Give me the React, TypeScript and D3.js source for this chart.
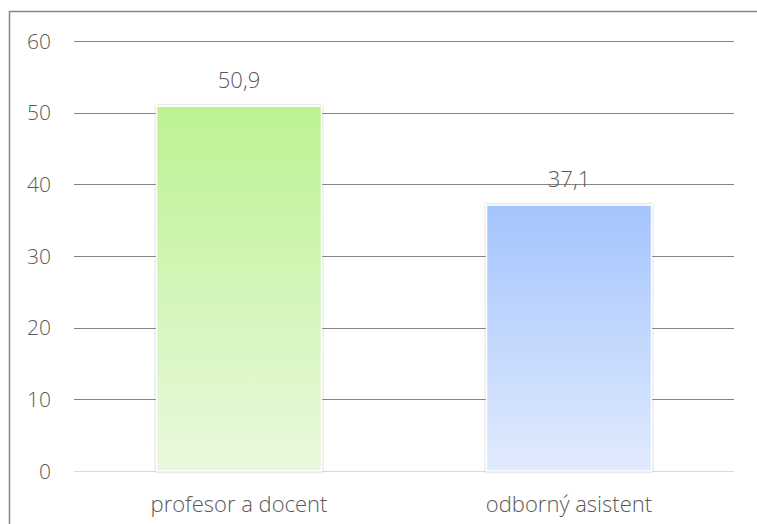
import React, { useEffect, useRef } from 'react';
import * as d3 from 'd3';

const categories = ['profesor a docent', 'odborný asistent'];
const values = [50.9, 37.1];
const valueLabels = ['50,9', '37,1'];
const yTicks = [0, 10, 20, 30, 40, 50, 60];
const gradients = [
  { top: '#bdf293', bottom: '#e9f9de' },
  { top: '#a4c4fd', bottom: '#e1ebfd' },
];

const W = 757;
const H = 524;
const FONT = '"Open Sans", sans-serif';

const App: React.FC = () => {
  const ref = useRef<SVGSVGElement | null>(null);

  useEffect(() => {
    if (!ref.current) return;
    const svg = d3.select(ref.current);
    svg.selectAll('*').remove();

    const margin = { left: 74, right: 23, top: 41, bottom: 53 };
    const x = d3.scaleBand<string>()
      .domain(categories)
      .range([margin.left, W - margin.right])
      .paddingInner(0.5)
      .paddingOuter(0.25);
    const y = d3.scaleLinear().domain([0, 60]).range([H - margin.bottom, margin.top]);

    const defs = svg.append('defs');
    gradients.forEach((g, i) => {
      const lg = defs.append('linearGradient')
        .attr('id', `grad${i}`)
        .attr('x1', 0).attr('y1', 0).attr('x2', 0).attr('y2', 1);
      lg.append('stop').attr('offset', '0%').attr('stop-color', g.top);
      lg.append('stop').attr('offset', '100%').attr('stop-color', g.bottom);
    });
    const f = defs.append('filter').attr('id', 'shadow')
      .attr('x', '-10%').attr('y', '-10%').attr('width', '120%').attr('height', '120%');
    f.append('feDropShadow').attr('dx', 0).attr('dy', 0).attr('stdDeviation', 1.2)
      .attr('flood-color', '#000').attr('flood-opacity', 0.35);

    svg.append('rect').attr('width', W).attr('height', H).attr('fill', '#fff');

    // outer chart border (cropped on the right and bottom)
    svg.append('path')
      .attr('d', `M9.5,${H + 2}V11.5H${W + 2}`)
      .attr('fill', 'none')
      .attr('stroke', '#868686')
      .attr('stroke-width', 1.5);

    // gridlines
    svg.append('g').selectAll('line')
      .data(yTicks)
      .join('line')
      .attr('x1', margin.left)
      .attr('x2', W - margin.right)
      .attr('y1', d => Math.round(y(d)) + 0.5)
      .attr('y2', d => Math.round(y(d)) + 0.5)
      .attr('stroke', d => (d === 0 ? '#d9d9d9' : '#858585'))
      .attr('stroke-width', d => (d === 0 ? 1 : 1.2));

    // y tick labels
    svg.append('g').selectAll('text')
      .data(yTicks)
      .join('text')
      .attr('x', 51)
      .attr('y', d => y(d))
      .attr('dy', '0.36em')
      .attr('text-anchor', 'end')
      .attr('font-family', FONT)
      .attr('font-weight', 300)
      .attr('font-size', 21)
      .attr('fill', '#595959')
      .text(d => d);

    // bars
    svg.append('g').selectAll('rect')
      .data(values)
      .join('rect')
      .attr('x', (_, i) => x(categories[i])!)
      .attr('width', x.bandwidth())
      .attr('y', d => y(d))
      .attr('height', d => y(0) - y(d))
      .attr('fill', (_, i) => `url(#grad${i})`)
      .attr('stroke', '#ffffff')
      .attr('stroke-width', 1.5)
      .attr('filter', 'url(#shadow)');

    // value labels
    svg.append('g').selectAll('text')
      .data(values)
      .join('text')
      .attr('x', (_, i) => x(categories[i])! + x.bandwidth() / 2)
      .attr('y', d => y(d) - 18)
      .attr('text-anchor', 'middle')
      .attr('font-family', FONT)
      .attr('font-weight', 300)
      .attr('font-size', 22)
      .attr('fill', '#595959')
      .text((_, i) => valueLabels[i]);

    // category labels
    svg.append('g').selectAll('text')
      .data(categories)
      .join('text')
      .attr('x', d => x(d)! + x.bandwidth() / 2)
      .attr('y', y(0) + 41)
      .attr('text-anchor', 'middle')
      .attr('font-family', FONT)
      .attr('font-weight', 300)
      .attr('font-size', 22)
      .attr('fill', '#595959')
      .text(d => d);
  }, []);

  return <svg ref={ref} width={W} height={H} style={{ display: 'block', position: 'absolute', left: 0, top: 0 }} />;
};

export default App;
